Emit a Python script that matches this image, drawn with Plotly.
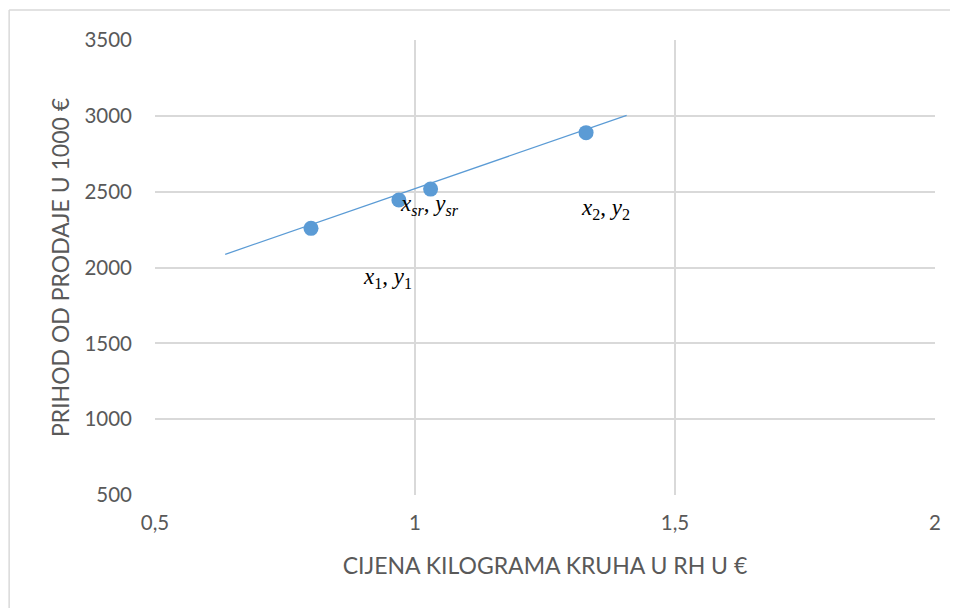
import plotly.graph_objects as go

# data
price = [0.80, 0.969, 1.030, 1.329]
revenue = [2258, 2445, 2517, 2889]
trend_x = [0.635, 1.407]
trend_y = [2087, 3003]
label_text = ["<i>x</i><sub>1</sub>, <i>y</i><sub>1</sub>",
              "<i>x<sub>sr</sub></i>, <i>y<sub>sr</sub></i>",
              "<i>x</i><sub>2</sub>, <i>y</i><sub>2</sub>"]
label_x = [0.948, 1.027, 1.367]
label_y = [1931, 2412, 2386]
x_ticks = [0.5, 1, 1.5, 2]
x_ticklabels = ["0,5", "1", "1,5", "2"]
y_ticks = [500, 1000, 1500, 2000, 2500, 3000, 3500]

BLUE = "#5b9bd5"
GRID = "#d9d9d9"
TXT = "#595959"
FONT = "Lato"

fig = go.Figure()
fig.add_trace(go.Scatter(x=trend_x, y=trend_y, mode="lines",
                         line=dict(color=BLUE, width=1.2), showlegend=False,
                         hoverinfo="skip"))
fig.add_trace(go.Scatter(x=price, y=revenue, mode="markers",
                         marker=dict(color=BLUE, size=15), showlegend=False))

for t, x, y in zip(label_text, label_x, label_y):
    fig.add_annotation(x=x, y=y, text=t, showarrow=False,
                       font=dict(family="Liberation Serif", size=23, color="black"))

# outer chart frame (left and top edges visible)
fig.add_shape(type="line", xref="paper", yref="paper",
              x0=-0.187, x1=-0.187, y0=-0.5, y1=1.066,
              line=dict(color=GRID, width=1.5), layer="below")
fig.add_shape(type="line", xref="paper", yref="paper",
              x0=-0.187, x1=1.3, y0=1.066, y1=1.066,
              line=dict(color=GRID, width=1.5), layer="below")

fig.update_layout(
    width=950, height=600,
    margin=dict(l=147, r=23, t=32, b=113),
    paper_bgcolor="white", plot_bgcolor="white",
    font=dict(family=FONT, color=TXT, size=20),
    xaxis=dict(range=[0.5, 2], tickvals=x_ticks, ticktext=x_ticklabels,
               showgrid=True, gridcolor=GRID, gridwidth=1.5, zeroline=False,
               showline=False, ticks="", ticklabelstandoff=13,
               tickfont=dict(size=20.5),
               title=dict(text="CIJENA KILOGRAMA KRUHA U RH U €", standoff=25,
                          font=dict(size=23, color=TXT))),
    yaxis=dict(range=[500, 3500], tickvals=y_ticks,
               showgrid=True, gridcolor=GRID, gridwidth=1.5, zeroline=False,
               showline=False, ticks="", ticklabelstandoff=22,
               tickfont=dict(size=20.5),
               title=dict(text="PRIHOD OD PRODAJE U 1000 €", standoff=8,
                          font=dict(size=23, color=TXT))),
)

fig.write_html("out.html")
